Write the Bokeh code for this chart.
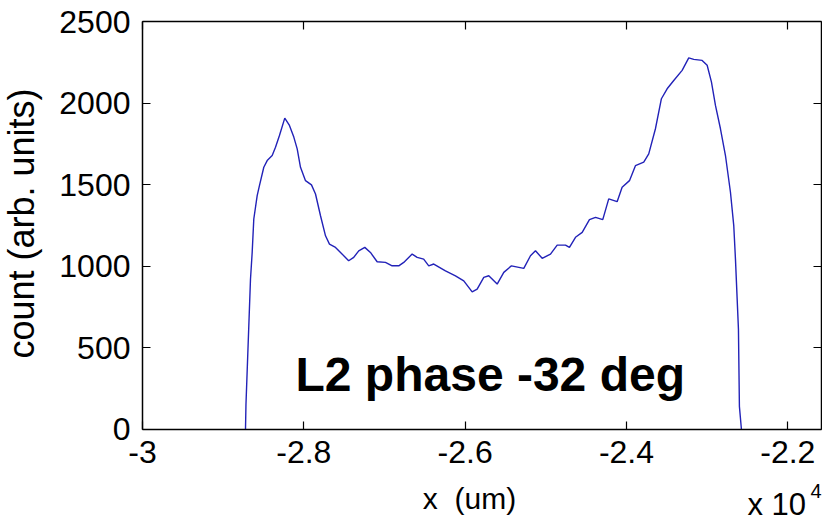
import math
from bokeh.plotting import figure
from bokeh.models import LinearAxis, FixedTicker, CustomJSTickFormatter, Label, Range1d
from bokeh.embed import file_html
from bokeh.resources import INLINE

# positions in units of 1e4 um, counts in arb. units
x_pos = [-2.8723, -2.8717, -2.8661, -2.8640, -2.8620, -2.8578, -2.8550, -2.8496,
         -2.8454, -2.8392, -2.8351, -2.8302, -2.8236, -2.8178, -2.8124, -2.8082,
         -2.8041, -2.7979, -2.7905, -2.7855, -2.7793, -2.7731, -2.7682, -2.7607,
         -2.7545, -2.7444, -2.7381, -2.7319, -2.7244, -2.7174, -2.7091, -2.6988,
         -2.6905, -2.6823, -2.6761, -2.6657, -2.6595, -2.6514, -2.6451, -2.6389,
         -2.6244, -2.6120, -2.6017, -2.5913, -2.5851, -2.5769, -2.5707, -2.5603,
         -2.5521, -2.5426, -2.5273, -2.5190, -2.5128, -2.5045, -2.4942, -2.4859,
         -2.4756, -2.4707, -2.4632, -2.4549, -2.4459, -2.4384, -2.4294, -2.4220,
         -2.4116, -2.4054, -2.3963, -2.3889, -2.3786, -2.3724, -2.3641, -2.3567,
         -2.3496, -2.3414, -2.3310, -2.3228, -2.3166, -2.3062, -2.3000, -2.2947,
         -2.2897, -2.2835, -2.2773, -2.2711, -2.2670, -2.2649, -2.2612, -2.2600,
         -2.2575]
counts = [0, 154, 921, 1085, 1290, 1433, 1494, 1607,
          1648, 1679, 1730, 1802, 1908, 1863, 1792, 1720,
          1607, 1525, 1499, 1443, 1310, 1187, 1136, 1116,
          1085, 1034, 1055, 1095, 1116, 1085, 1028, 1024,
          1003, 1003, 1024, 1075, 1055, 1044, 1003, 1014,
          972, 942, 911, 843, 860, 932, 942, 891,
          963, 1003, 987, 1065, 1095, 1049, 1075, 1130,
          1130, 1116, 1178, 1208, 1286, 1300, 1286, 1413,
          1396, 1485, 1525, 1617, 1638, 1689, 1843, 2027,
          2088, 2139, 2201, 2277, 2268, 2262, 2232, 2130,
          1986, 1843, 1679, 1454, 1249, 1044, 614, 141,
          0]

x_ticks = [-3.0, -2.8, -2.6, -2.4, -2.2]
y_ticks = [0, 500, 1000, 1500, 2000, 2500]

FONT = "Liberation Sans"
X0, X1 = -3.0, -2.1585      # axes box in x
Y0, Y1 = 0, 2500            # axes box in y

p = figure(width=822, height=522, output_backend="svg", toolbar_location=None,
           x_range=Range1d(-3.1760, -2.1570), y_range=Range1d(-570, 2629),
           min_border=0, background_fill_color="white", border_fill_color="white")
p.xgrid.visible = False
p.ygrid.visible = False
p.outline_line_color = None

p.line(x_pos, counts, line_color="#2222b8", line_width=1.4)

fmt = CustomJSTickFormatter(code="return (Math.round(tick*10)/10).toString();")
blank = CustomJSTickFormatter(code="return '';")


def style(ax):
    ax.major_tick_in = 8
    ax.major_tick_out = 0
    ax.minor_tick_in = 0
    ax.minor_tick_out = 0
    ax.major_tick_line_color = "black"
    ax.major_tick_line_width = 1.2
    ax.axis_line_color = "black"
    ax.axis_line_width = 1.5
    ax.major_label_text_font = FONT
    ax.major_label_text_font_size = "32px"
    ax.major_label_text_color = "black"
    ax.major_label_standoff = 12


for ax in p.xaxis:
    ax.ticker = FixedTicker(ticks=x_ticks)
    ax.formatter = fmt
    ax.fixed_location = Y0
    ax.bounds = (X0, X1)
    style(ax)
for ax in p.yaxis:
    ax.ticker = FixedTicker(ticks=y_ticks)
    ax.fixed_location = X0
    ax.bounds = (Y0, Y1)
    style(ax)

top = LinearAxis(ticker=FixedTicker(ticks=x_ticks), formatter=blank,
                 fixed_location=Y1, bounds=(X0, X1))
style(top)
right = LinearAxis(ticker=FixedTicker(ticks=y_ticks), formatter=blank,
                   fixed_location=X1, bounds=(Y0, Y1))
style(right)
p.add_layout(top, "above")
p.add_layout(right, "right")

p.add_layout(Label(x=-3.150, y=1262, text="count (arb. units)", text_font=FONT,
                   text_font_size="36px", text_color="black", angle=math.pi / 2,
                   text_align="center", text_baseline="middle"))
p.add_layout(Label(x=-2.8103, y=335, text="L2 phase -32 deg", text_font=FONT,
                   text_font_size="48px", text_font_style="bold", text_color="black",
                   text_align="left", text_baseline="alphabetic"))
p.add_layout(Label(x=-2.5946, y=-420, text="x \u00a0(um)", text_font=FONT,
                   text_font_size="30px", text_color="black",
                   text_align="center", text_baseline="alphabetic"))
p.add_layout(Label(x=-2.2500, y=-462, text="x 10", text_font=FONT,
                   text_font_size="31px", text_color="black",
                   text_align="left", text_baseline="alphabetic"))
p.add_layout(Label(x=-2.1719, y=-378, text="4", text_font=FONT,
                   text_font_size="20px", text_color="black",
                   text_align="left", text_baseline="alphabetic"))

open("out.html", "w").write(file_html(p, INLINE))
